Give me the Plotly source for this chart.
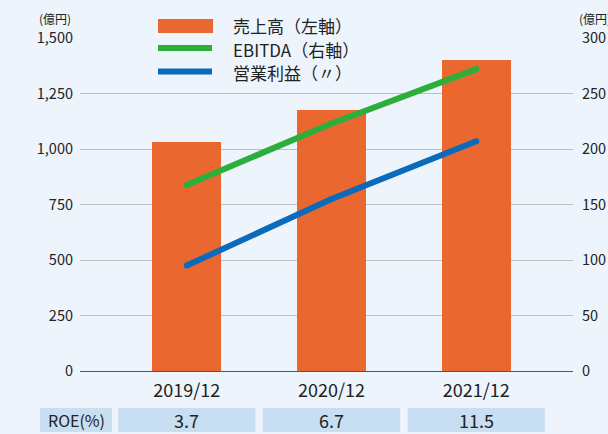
import plotly.graph_objects as go

categories = ["2019/12", "2020/12", "2021/12"]
sales = [1031, 1176, 1401]          # 売上高 (左軸)
ebitda = [167.6, 223, 272]          # EBITDA (右軸)
op_profit = [95, 155, 207]          # 営業利益 (右軸)
roe = ["3.7", "6.7", "11.5"]
left_ticks = [0, 250, 500, 750, 1000, 1250, 1500]
right_ticks = [0, 50, 100, 150, 200, 250, 300]

FONT = "Noto Sans CJK JP"
BG = "#EDF4FC"
ORANGE = "#EA6830"
GREEN = "#2BAE3A"
BLUE = "#0B6BBA"
TXT = "#222222"

W, H = 608, 434
L, R, T, B = 80, 35, 38, 63
pw, ph = W - L - R, H - T - B

def px2x(px):
    return (px - L) / pw

def px2y(py):
    return (H - B - py) / ph

xi = list(range(len(categories)))

fig = go.Figure()
fig.add_trace(go.Bar(x=xi, y=sales, marker=dict(color=ORANGE, line=dict(width=0)),
                     width=0.478, yaxis="y", showlegend=False, hoverinfo="skip"))
fig.add_trace(go.Scatter(x=xi, y=ebitda, mode="lines+markers", yaxis="y2",
                         line=dict(color=GREEN, width=6), marker=dict(color=GREEN, size=6),
                         showlegend=False))
fig.add_trace(go.Scatter(x=xi, y=op_profit, mode="lines+markers", yaxis="y2",
                         line=dict(color=BLUE, width=6), marker=dict(color=BLUE, size=6),
                         showlegend=False))

shapes = []
annotations = []

# custom legend
shapes.append(dict(type="rect", xref="paper", yref="paper",
                   x0=px2x(158), x1=px2x(213), y0=px2y(33), y1=px2y(19),
                   fillcolor=ORANGE, line=dict(width=0), layer="above"))
shapes.append(dict(type="line", xref="paper", yref="paper",
                   x0=px2x(158), x1=px2x(212), y0=px2y(48), y1=px2y(48),
                   line=dict(color=GREEN, width=6), layer="above"))
shapes.append(dict(type="line", xref="paper", yref="paper",
                   x0=px2x(158), x1=px2x(212), y0=px2y(71.5), y1=px2y(71.5),
                   line=dict(color=BLUE, width=6), layer="above"))
for txt, py in [("売上高（左軸）", 26), ("EBITDA（右軸）", 49), ("営業利益（〃）", 72)]:
    annotations.append(dict(text=txt, xref="paper", yref="paper", x=px2x(231), y=px2y(py),
                            xanchor="left", yanchor="middle", showarrow=False,
                            font=dict(family=FONT, size=17, color=TXT)))

# unit labels
annotations.append(dict(text="(億円)", xref="paper", yref="paper", x=px2x(73), y=px2y(18),
                        xanchor="right", yanchor="middle", showarrow=False,
                        font=dict(family=FONT, size=12, color=TXT)))
annotations.append(dict(text="(億円)", xref="paper", yref="paper", x=px2x(577), y=px2y(18),
                        xanchor="left", yanchor="middle", showarrow=False,
                        font=dict(family=FONT, size=12, color=TXT)))

# ROE table row
cy0, cy1 = px2y(432), px2y(408)
shapes.append(dict(type="rect", xref="paper", yref="paper",
                   x0=px2x(40), x1=px2x(112), y0=cy0, y1=cy1,
                   fillcolor="#C8DEF1", line=dict(width=0), layer="below"))
annotations.append(dict(text="ROE(%)", xref="paper", yref="paper", x=px2x(76), y=px2y(420),
                        xanchor="center", yanchor="middle", showarrow=False,
                        font=dict(family=FONT, size=16, color=TXT)))
for i, v in zip(xi, roe):
    shapes.append(dict(type="rect", xref="x", yref="paper",
                       x0=i - 0.474, x1=i + 0.474, y0=cy0, y1=cy1,
                       fillcolor="#C8DEF1", line=dict(width=0), layer="below"))
    annotations.append(dict(text=v, xref="x", yref="paper", x=i, y=px2y(420),
                            xanchor="center", yanchor="middle", showarrow=False,
                            font=dict(family=FONT, size=18, color=TXT)))

fig.update_layout(
    width=W, height=H,
    margin=dict(l=L, r=R, t=T, b=B, pad=0, autoexpand=False),
    paper_bgcolor=BG, plot_bgcolor=BG,
    font=dict(family=FONT, color=TXT),
    bargap=0,
    xaxis=dict(range=[-0.737, 2.668], tickvals=xi, ticktext=categories,
               showgrid=False, zeroline=False, showline=True, linecolor="#555555",
               linewidth=1, ticks="", tickfont=dict(size=18, color=TXT),
               ticklabelstandoff=3, automargin=False, fixedrange=True),
    yaxis=dict(range=[0, 1500], tickvals=left_ticks, tickformat=",",
               showgrid=True, gridcolor="#BDBDBD", gridwidth=1, zeroline=False,
               ticks="", tickfont=dict(size=14.5, color=TXT), ticklabelstandoff=6,
               automargin=False),
    yaxis2=dict(range=[0, 300], tickvals=right_ticks, overlaying="y", side="right",
                showgrid=False, zeroline=False, ticks="", automargin=False,
                tickfont=dict(size=14.5, color=TXT), ticklabelstandoff=8),
    shapes=shapes,
    annotations=annotations,
    showlegend=False,
)

fig.write_html("out.html", config={"displayModeBar": False},
               post_script="document.body.style.margin='0';document.body.style.background='" + BG + "';")
